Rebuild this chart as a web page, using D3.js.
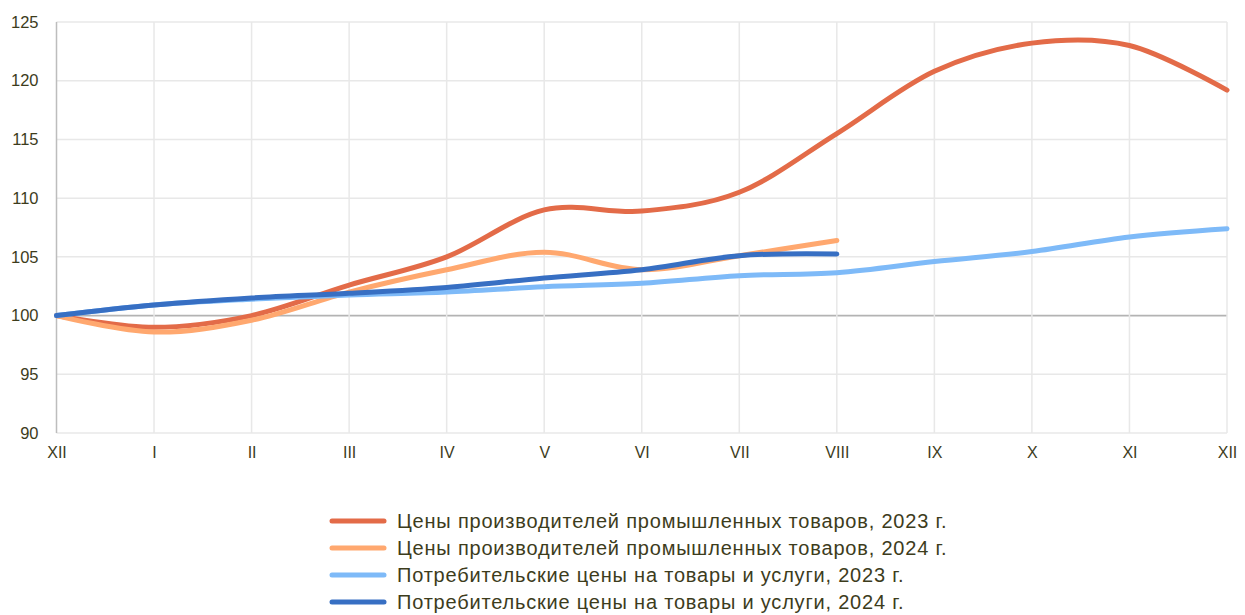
<!DOCTYPE html>
<html>
<head>
<meta charset="utf-8">
<script src="https://cdn.jsdelivr.net/npm/d3@7"></script>
<style>
  body { margin: 0; background: #fff; }
  svg { display: block; font-family: "Liberation Sans", Arial, sans-serif; }
</style>
</head>
<body>
<svg id="chart" width="1245" height="615"></svg>
<script>
const months = ["XII", "I", "II", "III", "IV", "V", "VI", "VII", "VIII", "IX", "X", "XI", "XII"];
const ppi2023 = [100, 99.0, 100.0, 102.6, 105.0, 109.0, 108.9, 110.5, 115.5, 120.8, 123.2, 123.0, 119.2];
const ppi2024 = [100, 98.6, 99.6, 102.0, 103.9, 105.4, 103.9, 105.1, 106.4];
const cpi2023 = [100, 100.9, 101.4, 101.75, 102.0, 102.45, 102.75, 103.4, 103.65, 104.6, 105.45, 106.7, 107.4];
const cpi2024 = [100, 100.9, 101.5, 101.9, 102.4, 103.2, 103.9, 105.1, 105.25];
const yTicks = [90, 95, 100, 105, 110, 115, 120, 125];

const series = [
  {name: "Цены производителей промышленных товаров, 2023 г.", values: ppi2023, color: "#e36b48"},
  {name: "Цены производителей промышленных товаров, 2024 г.", values: ppi2024, color: "#ffa86f"},
  {name: "Потребительские цены на товары и услуги, 2023 г.", values: cpi2023, color: "#7ebaf8"},
  {name: "Потребительские цены на товары и услуги, 2024 г.", values: cpi2024, color: "#376fc3"}
];

const svg = d3.select("#chart");
const margin = {left: 56.5, right: 18, top: 22, bottom: 182};
const W = 1245, H = 615;
const textColor = "#3d3c1c";

const x = d3.scaleLinear().domain([0, months.length - 1]).range([margin.left, W - margin.right]);
const y = d3.scaleLinear().domain([90, 125]).range([H - margin.bottom, margin.top]);

// grid
const grid = svg.append("g");
grid.selectAll("line.h").data(yTicks).join("line")
  .attr("x1", x(0)).attr("x2", x(12))
  .attr("y1", d => y(d)).attr("y2", d => y(d))
  .attr("stroke", d => d === 100 ? "#b3b3b3" : "#e8e8e8")
  .attr("stroke-width", d => d === 100 ? 1.8 : 1.5);
grid.selectAll("line.v").data(d3.range(1, 13)).join("line")
  .attr("x1", d => x(d)).attr("x2", d => x(d))
  .attr("y1", y(125)).attr("y2", y(90))
  .attr("stroke", "#e8e8e8").attr("stroke-width", 1.5);
grid.append("line")
  .attr("x1", x(0)).attr("x2", x(0))
  .attr("y1", y(125)).attr("y2", y(90))
  .attr("stroke", "#bdbdbd").attr("stroke-width", 1.5);

// axes labels
const yAxis = d3.axisLeft(y).tickValues(yTicks).tickSize(0).tickPadding(18);
svg.append("g").attr("transform", `translate(${x(0)},0)`).call(yAxis)
  .call(g => g.select(".domain").remove())
  .selectAll("text").attr("fill", textColor).style("font-size", "16.5px")
  .style("font-family", "'Liberation Sans', Arial, sans-serif");

const xAxis = d3.axisBottom(x).tickValues(d3.range(13)).tickFormat(i => months[i]).tickSize(0).tickPadding(14);
svg.append("g").attr("transform", `translate(0,${y(90)})`).call(xAxis)
  .call(g => g.select(".domain").remove())
  .selectAll("text").attr("fill", textColor).style("font-size", "16px")
  .style("font-family", "'Liberation Sans', Arial, sans-serif");

// lines
const line = d3.line()
  .x((d, i) => x(i))
  .y(d => y(d))
  .curve(d3.curveCardinal.tension(0));

svg.append("g").selectAll("path").data(series).join("path")
  .attr("d", d => line(d.values))
  .attr("fill", "none")
  .attr("stroke", d => d.color)
  .attr("stroke-width", 5)
  .attr("stroke-linecap", "round")
  .attr("stroke-linejoin", "round");

// legend
const legend = svg.append("g").attr("transform", "translate(332,521)");
const item = legend.selectAll("g").data(series).join("g")
  .attr("transform", (d, i) => `translate(0,${i * 27})`);
item.append("line")
  .attr("x1", 0).attr("x2", 52)
  .attr("stroke", d => d.color).attr("stroke-width", 5)
  .attr("stroke-linecap", "round");
item.append("text")
  .attr("x", 65).attr("y", 0).attr("dy", "0.35em")
  .attr("fill", textColor)
  .style("font-size", "20px")
  .style("letter-spacing", "0.8px")
  .text(d => d.name);
</script>
</body>
</html>
